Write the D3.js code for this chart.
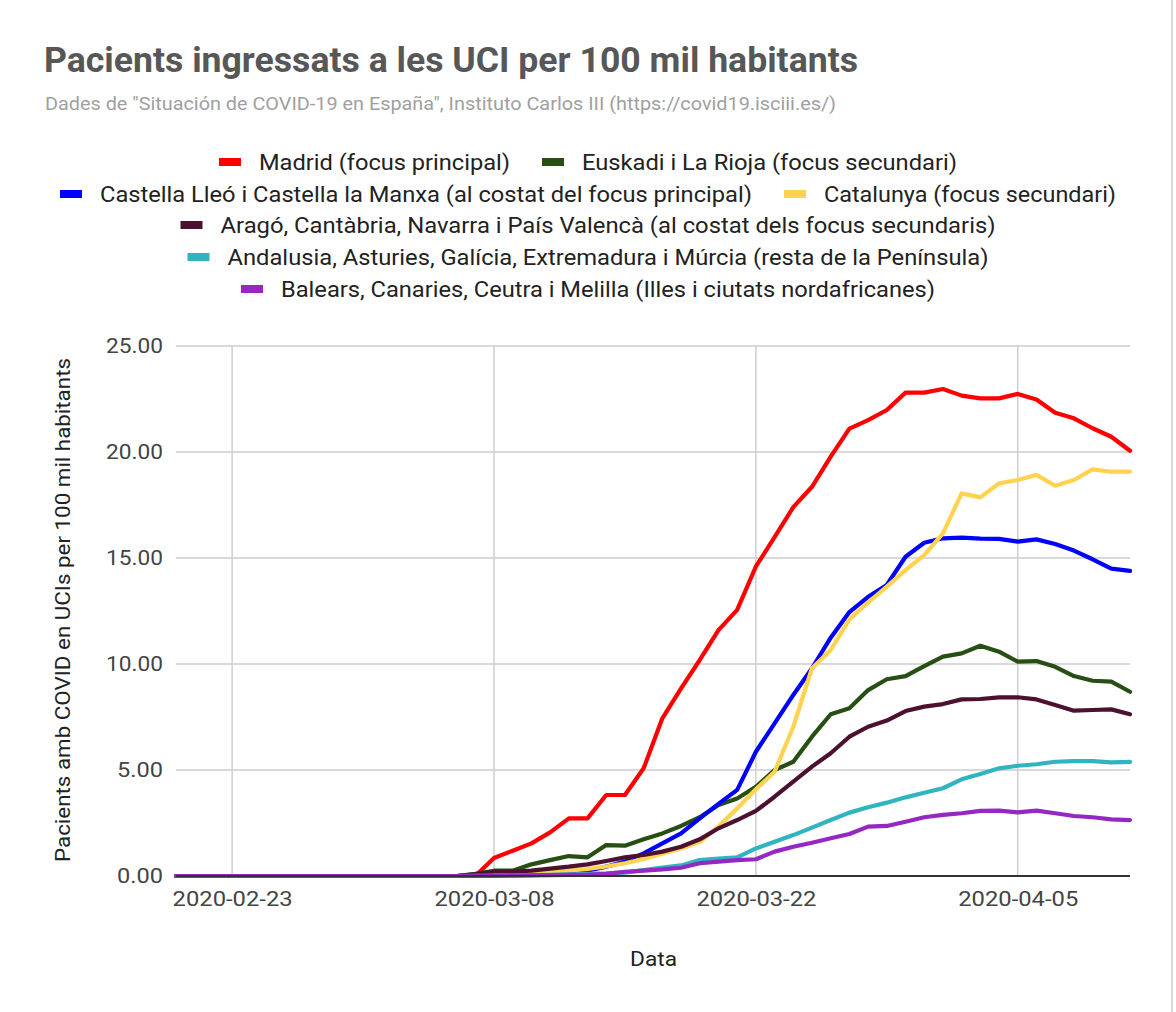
<!DOCTYPE html>
<html><head><meta charset="utf-8">
<script src="https://cdn.jsdelivr.net/npm/d3@7/dist/d3.min.js"></script>
<style>
html,body{margin:0;padding:0;background:#fff;}
svg{display:block;font-family:Roboto,"Noto Sans",sans-serif;}
</style></head>
<body><svg id="chart" width="1176" height="1012"></svg>
<script>
const startDate = "2020-02-20";
const tickDates = ["2020-02-23","2020-03-08","2020-03-22","2020-04-05"];
const yTicks = [0,5,10,15,20,25];

const seriesNames = [
 "Madrid (focus principal)",
 "Euskadi i La Rioja (focus secundari)",
 "Castella Lleó i Castella la Manxa (al costat del focus principal)",
 "Catalunya (focus secundari)",
 "Aragó, Cantàbria, Navarra i País Valencà (al costat dels focus secundaris)",
 "Andalusia, Asturies, Galícia, Extremadura i Múrcia (resta de la Península)",
 "Balears, Canaries, Ceutra i Melilla (Illes i ciutats nordafricanes)"
];
const seriesColors = ["#ff0000","#274e13","#0000ff","#ffd34f","#4c1130","#2fb4c0","#9527c2"];

const z16 = [0,0,0,0,0,0,0,0,0,0,0,0,0,0,0,0];
const madrid = z16.concat([0,0.85,1.19,1.54,2.06,2.72,2.72,3.82,3.82,5.08,7.44,8.85,10.19,11.6,12.55,14.6,15.98,17.4,18.36,19.78,21.1,21.5,21.98,22.8,22.8,22.97,22.66,22.53,22.53,22.74,22.48,21.85,21.59,21.12,20.72,20.06]);
const euskadi = z16.concat([0.1,0.25,0.25,0.55,0.75,0.94,0.88,1.46,1.43,1.73,2.01,2.36,2.77,3.35,3.66,4.21,5.0,5.39,6.57,7.63,7.91,8.77,9.28,9.43,9.9,10.35,10.5,10.86,10.58,10.11,10.14,9.87,9.43,9.21,9.17,8.69]);
const castella = z16.concat([0.02,0.05,0.08,0.12,0.15,0.2,0.25,0.44,0.68,1.07,1.54,2.01,2.72,3.4,4.06,5.86,7.2,8.54,9.8,11.24,12.45,13.17,13.73,15.06,15.72,15.93,15.96,15.91,15.9,15.77,15.88,15.66,15.35,14.94,14.5,14.39]);
const catalunya = z16.concat([0.02,0.05,0.08,0.12,0.18,0.25,0.33,0.45,0.6,0.8,1.05,1.3,1.6,2.33,3.19,4.09,4.92,7.04,9.8,10.66,12.1,12.9,13.65,14.43,15.14,16.16,18.05,17.86,18.52,18.68,18.92,18.41,18.68,19.18,19.07,19.07]);
const arago = z16.concat([0.08,0.2,0.2,0.25,0.35,0.44,0.55,0.71,0.88,0.99,1.15,1.38,1.73,2.25,2.64,3.07,3.74,4.45,5.16,5.79,6.57,7.04,7.33,7.78,7.99,8.11,8.33,8.35,8.43,8.43,8.33,8.07,7.8,7.83,7.86,7.63]);
const andalusia = z16.concat([0.01,0.02,0.03,0.04,0.06,0.08,0.1,0.12,0.16,0.28,0.4,0.5,0.75,0.82,0.88,1.3,1.62,1.93,2.28,2.64,2.99,3.24,3.46,3.71,3.93,4.14,4.56,4.81,5.08,5.2,5.27,5.39,5.42,5.42,5.36,5.38]);
const balears = z16.concat([0.01,0.01,0.02,0.03,0.04,0.05,0.06,0.1,0.2,0.25,0.31,0.39,0.6,0.68,0.75,0.79,1.15,1.38,1.57,1.78,1.98,2.33,2.36,2.56,2.77,2.88,2.96,3.07,3.08,3.0,3.08,2.96,2.83,2.77,2.67,2.64]);

const seriesValues = [madrid, euskadi, castella, catalunya, arago, andalusia, balears];

const legendTextW = [251, 375, 652, 292, 775, 761, 654];
const legendRows = [[0,1],[2,3],[4],[5],[6]];
const rowY = [162, 194, 225, 257, 289];

const parse = d3.timeParse("%Y-%m-%d");
const fmt = d3.timeFormat("%Y-%m-%d");
const d0 = parse(startDate);
const dates = madrid.map((_, i) => d3.timeDay.offset(d0, i));

const svg = d3.select("#chart");
const L = 176, R = 1130, T = 346, B = 876;

const x = d3.scaleTime().domain([dates[0], dates[dates.length-1]]).range([L, R]);
const y = d3.scaleLinear().domain([0, 25]).range([B, T]);

// Title & subtitle
svg.append("text").attr("x", 44).attr("y", 72).attr("font-size", 35).attr("font-weight", "bold")
  .attr("fill", "#575757").attr("textLength", 814).attr("lengthAdjust", "spacingAndGlyphs")
  .text("Pacients ingressats a les UCI per 100 mil habitants");
svg.append("text").attr("x", 45).attr("y", 110).attr("font-size", 18.5).attr("fill", "#a0a0a0")
  .attr("textLength", 791).attr("lengthAdjust", "spacingAndGlyphs")
  .text('Dades de "Situación de COVID-19 en España", Instituto Carlos III (https://covid19.isciii.es/)');

// Legend
const swW = 22, swH = 8, swGap = 18, itemGap = 32, legCenter = 588;
legendRows.forEach((row, ri) => {
  const g = svg.append("g");
  let cx = 0;
  row.forEach((si, k) => {
    if (k > 0) cx += itemGap;
    g.append("rect").attr("x", cx).attr("y", rowY[ri] - swH / 2).attr("width", swW).attr("height", swH)
      .attr("fill", seriesColors[si]);
    g.append("text").attr("x", cx + swW + swGap).attr("y", rowY[ri]).attr("dy", "0.36em")
      .attr("font-size", 22).attr("fill", "#222")
      .attr("textLength", legendTextW[si]).attr("lengthAdjust", "spacingAndGlyphs")
      .text(seriesNames[si]);
    cx += swW + swGap + legendTextW[si];
  });
  g.attr("transform", `translate(${legCenter - cx / 2},0)`);
});

// Gridlines
const tickD = tickDates.map(parse);
svg.append("g").selectAll("line").data(yTicks.filter(v => v > 0)).join("line")
  .attr("x1", L).attr("x2", R).attr("y1", d => y(d)).attr("y2", d => y(d))
  .attr("stroke", "#cccccc").attr("stroke-width", 1.4);
svg.append("g").selectAll("line").data(tickD).join("line")
  .attr("x1", d => x(d)).attr("x2", d => x(d)).attr("y1", T).attr("y2", B)
  .attr("stroke", "#cccccc").attr("stroke-width", 1.4);

// Axes labels via d3 axes
const yAxis = d3.axisLeft(y).tickValues(yTicks).tickFormat(d3.format(".2f")).tickSize(0).tickPadding(13);
const ya = svg.append("g").attr("transform", `translate(${L},0)`).call(yAxis);
ya.select(".domain").remove();
ya.selectAll("text").attr("font-size", 21).attr("fill", "#444").attr("font-family", "Roboto")
  .attr("textLength", d => d >= 10 ? 57 : 46).attr("lengthAdjust", "spacingAndGlyphs");

const xAxis = d3.axisBottom(x).tickValues(tickD).tickFormat(fmt).tickSize(0).tickPadding(15);
const xa = svg.append("g").attr("transform", `translate(0,${B})`).call(xAxis);
xa.select(".domain").remove();
xa.selectAll("text").attr("font-size", 21).attr("fill", "#444").attr("font-family", "Roboto")
  .attr("textLength", 120).attr("lengthAdjust", "spacingAndGlyphs")
  .attr("x", function(){ return -60; }).attr("text-anchor", "start");

// Axis titles
svg.append("text").attr("x", 630).attr("y", 966).attr("font-size", 21)
  .attr("fill", "#222").attr("textLength", 47).attr("lengthAdjust", "spacingAndGlyphs").text("Data");
svg.append("text").attr("transform", "translate(70,862) rotate(-90)")
  .attr("font-size", 21).attr("fill", "#222").attr("textLength", 504).attr("lengthAdjust", "spacingAndGlyphs")
  .text("Pacients amb COVID en UCIs per 100 mil habitants");

// Lines
const line = d3.line().x((d, i) => x(dates[i])).y(d => y(d));
const order = [0,1,2,3,4,5,6];
svg.append("g").selectAll("path").data(order).join("path")
  .attr("d", si => line(seriesValues[si]))
  .attr("fill", "none").attr("stroke", si => seriesColors[si]).attr("stroke-width", 4.2)
  .attr("stroke-linejoin", "round").attr("stroke-linecap", "round");

// Baseline
svg.append("line").attr("x1", L).attr("x2", R).attr("y1", B).attr("y2", B).attr("stroke", "#333").attr("stroke-width", 2);

// right border
svg.append("line").attr("x1", 1172).attr("x2", 1172).attr("y1", 0).attr("y2", 1012).attr("stroke", "#ccc").attr("stroke-width", 1.5);
</script></body></html>
